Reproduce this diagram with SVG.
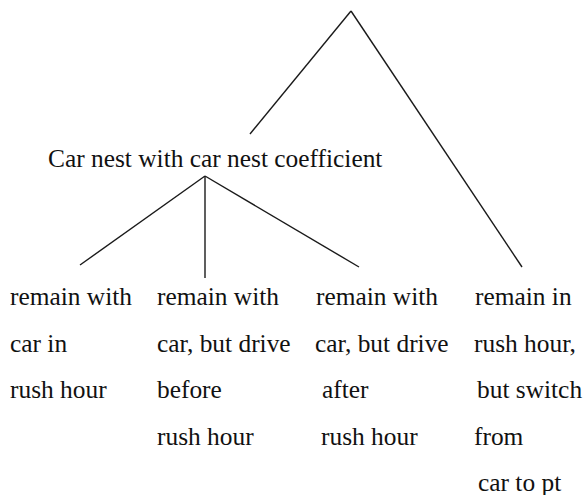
<svg xmlns="http://www.w3.org/2000/svg" width="585" height="495" viewBox="0 0 585 495">
<style>
text { font-family: "Liberation Serif", "Times New Roman", serif; font-size: 25.4px; fill: #111; }
line { stroke: #1a1a1a; stroke-width: 1.4; }
</style>
<rect width="585" height="495" fill="#fff"/>
<g id="connectors">
<line x1="351" y1="11" x2="250" y2="134"/>
<line x1="351" y1="11" x2="522" y2="267"/>
<line x1="205" y1="176" x2="80" y2="265"/>
<line x1="205" y1="176" x2="205" y2="278"/>
<line x1="205" y1="176" x2="359" y2="267"/>
</g>
<g id="car-nest">
<text x="48" y="167">Car nest with car nest coefficient</text>
</g>
<g id="leaf-1">
<text x="10" y="305">remain with</text>
<text x="10" y="352">car in</text>
<text x="10" y="398">rush hour</text>
</g>
<g id="leaf-2">
<text x="157" y="305">remain with</text>
<text x="157" y="352">car, but drive</text>
<text x="157" y="398">before</text>
<text x="157" y="445">rush hour</text>
</g>
<g id="leaf-3">
<text x="316" y="305">remain with</text>
<text x="315" y="352">car, but drive</text>
<text x="322" y="398">after</text>
<text x="321" y="445">rush hour</text>
</g>
<g id="leaf-4">
<text x="475" y="305">remain in</text>
<text x="474" y="352">rush hour,</text>
<text x="477" y="398">but switch</text>
<text x="474" y="445">from</text>
<text x="478" y="491">car to pt</text>
</g>
</svg>
